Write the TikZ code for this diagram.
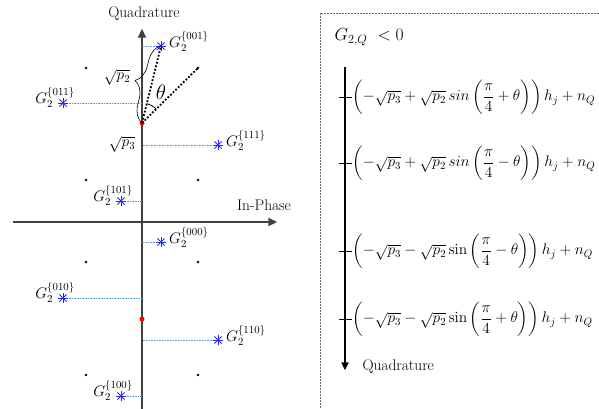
\RequirePackage{fix-cm}
\documentclass[tikz,border=0pt]{standalone}
\usepackage{amsmath}
\usetikzlibrary{arrows.meta, positioning, decorations.pathreplacing}
\definecolor{projblue}{RGB}{91,155,213}

\begin{document}
\begin{tikzpicture}[
    x=1pt, y=-1pt,
    font=\fontsize{15.4}{18}\selectfont,
    axis/.style={draw=black!75, line width=1.8pt, -{Triangle[length=9pt, width=8pt]}},
    sym/.style={circle, inner sep=0pt, minimum size=11pt, path picture={
        \foreach \a in {0,45,90,135}
            \draw[blue!85, line width=1pt] (path picture bounding box.center) ++(\a:5pt) -- ++(\a+180:10pt);}},
    grid/.style={circle, fill=black, inner sep=0pt, minimum size=2.6pt},
    origin/.style={circle, fill=red, inner sep=0pt, minimum size=5pt},
    proj/.style={draw=projblue, line width=0.7pt, dash pattern=on 1pt off 0.6pt},
    lbl/.style={inner sep=1pt},
    ray/.style={draw=black, line width=1.8pt, dash pattern=on 1.8pt off 1.8pt},
    tickmark/.style={draw=black, line width=1pt},
    expr/.style={anchor=west, inner sep=0pt}
]
\useasboundingbox (0,0) rectangle (599,408);

% constellation plane
\coordinate (qbot) at (142,412);
\node[inner sep=0pt] (qtop) at (142,28) {};
\node (quad) at (144,14) {Quadrature};
\coordinate (ileft) at (13,222);
\node[inner sep=0pt] (iright) at (278,222) {};
\node (inph) at (264,205) {In-Phase};
\draw[axis] (qbot) -- (qtop);
\draw[axis] (ileft) -- (iright);

\node[origin] (c1) at (142,123) {};
\node[origin] (c2) at (142,319) {};

\foreach \x/\y [count=\i] in {86/68, 198/68, 86/180, 198/180, 86/262, 198/262, 86/375, 198/375}
    \node[grid] (d\i) at (\x,\y) {};

% rotated symbols, labels on the right
\foreach \x/\y/\b in {161/46/001, 218/145/111, 161/242/000, 218/340/110} {
    \node[sym] (g\b) at (\x,\y) {};
    \node[lbl, anchor=west] (t\b) at ([xshift=7pt, yshift=5pt]g\b.center) {$G_2^{\{\b\}}$};
    \draw[proj] (g\b) -- (g\b -| qtop);
}
% rotated symbols, labels on the left
\foreach \x/\y/\b in {63/103/011, 121/201/101, 63/298/010, 121/396/100} {
    \node[sym] (g\b) at (\x,\y) {};
    \node[lbl] (t\b) at ([xshift=-8pt, yshift=6pt]g\b.center) {$G_2^{\{\b\}}$};
    \draw[proj] (g\b) -- (g\b -| qtop);
}

% angle and amplitude
\draw[ray] (c1.center) -- (g001.center);
\draw[ray] (c1.center) -- (d2.center);
\draw[line width=0.8pt] (c1.center) ++(45:20pt) arc[start angle=45, end angle=76, radius=20pt];
\node (theta) at (161,92) {\fontsize{21}{24}\selectfont$\theta$};
\draw[decorate, decoration={brace, amplitude=17pt}, line width=0.6pt] (c1.center) -- (g001.center);
\node (sp2) at (117,77) {$\sqrt{p_2}$};
\node (sp3) at (122,144) {$\sqrt{p_3}$};

% decision regions
\draw[draw=black!60, line width=0.8pt, dash pattern=on 2pt off 1pt] (605,13) -- (320,13) -- (320,412);
\node[anchor=west] (cond) at (331,37) {\fontsize{17.5}{20}\selectfont$G_{2,Q}\ < 0$};
\coordinate (vtop) at (345,67);
\node[inner sep=0pt] (vbot) at (345,371) {};
\draw[line width=2.2pt, -{Triangle[length=8pt, width=7pt]}] (vtop) -- (vbot);

\node[expr] (e1) at (352,97) {$\left(-\sqrt{p_3}+\sqrt{p_2}\,sin\left(\dfrac{\pi}{4}+\theta\right)\right)h_j+n_Q$};
\node[expr] (e2) at (352,163) {$\left(-\sqrt{p_3}+\sqrt{p_2}\,sin\left(\dfrac{\pi}{4}-\theta\right)\right)h_j+n_Q$};
\node[expr] (e3) at (352,251) {$\left(-\sqrt{p_3}-\sqrt{p_2}\,\mathrm{sin}\left(\dfrac{\pi}{4}-\theta\right)\right)h_j+n_Q$};
\node[expr] (e4) at (352,319) {$\left(-\sqrt{p_3}-\sqrt{p_2}\,\mathrm{sin}\left(\dfrac{\pi}{4}+\theta\right)\right)h_j+n_Q$};
\foreach \e in {e1,e2,e3,e4}
    \draw[tickmark] (\e.west -| vtop) ++(-6,0) -- (\e.west);
\node[anchor=west] (quad2) at (359,367) {Quadrature};

\end{tikzpicture}
\end{document}
